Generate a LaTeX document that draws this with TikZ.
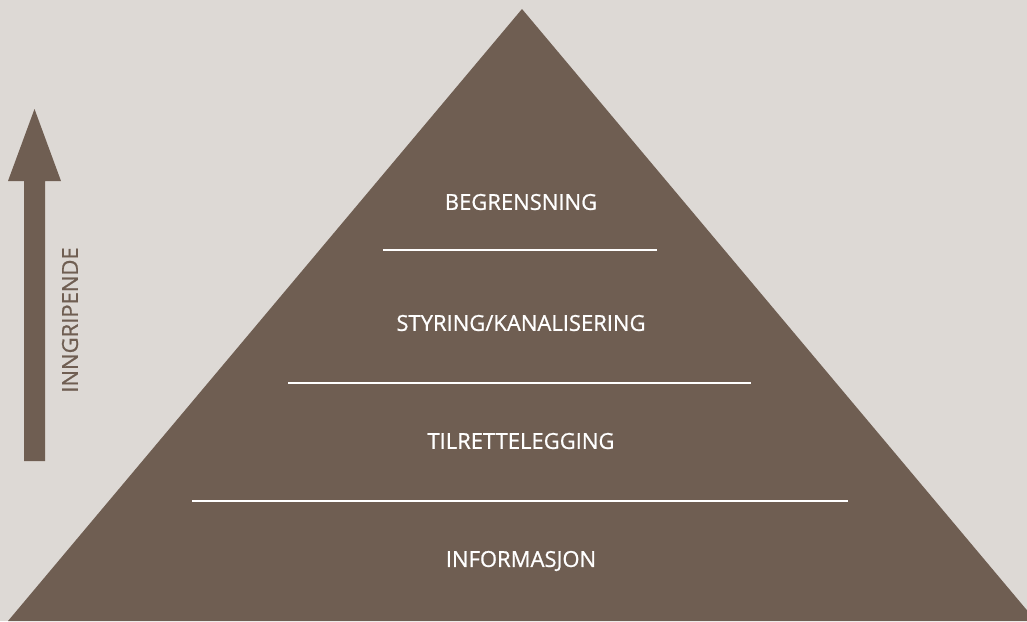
\documentclass[tikz,border=0pt]{standalone}
\usepackage{fontspec}
\setmainfont{Open Sans}[FakeBold=0.8]
\definecolor{bgcol}{HTML}{DDD9D5}
\definecolor{pyrbrown}{HTML}{6F5E52}
\tikzset{
  level/.style={text=white, font=\fontsize{22}{24}\selectfont, inner sep=0pt},
  divider/.style={white, line width=2.5pt},
}
\begin{document}
\begin{tikzpicture}[x=1pt,y=-1pt]
\fill[bgcol] (0,0) rectangle (1027,621);
\useasboundingbox (0,0) rectangle (1027,621);
% pyramid
\fill[pyrbrown] (522,9) -- (1036,621) -- (8,621) -- cycle;
% arrow
\fill[pyrbrown] (24,461) -- (24,181) -- (8,181) -- (34.5,109) -- (61,181) -- (45,181) -- (45,461) -- cycle;
\node[text=pyrbrown, font=\fontsize{22}{24}\selectfont, rotate=90, inner sep=0pt] (inngr) at (70,320) {INNGRIPENDE};
% levels
\node[level] (begr) at (521,202) {BEGRENSNING};
\node[level] (styr) at (521,323) {STYRING/KANALISERING};
\node[level] (tilr) at (521,441) {TILRETTELEGGING};
\node[level] (info) at (521,561) {INFORMASJON};
% dividers
\draw[divider] (383,250) -- (657,250);
\draw[divider] (288,383) -- (751,383);
\draw[divider] (192,501) -- (848,501);
\end{tikzpicture}
\end{document}
